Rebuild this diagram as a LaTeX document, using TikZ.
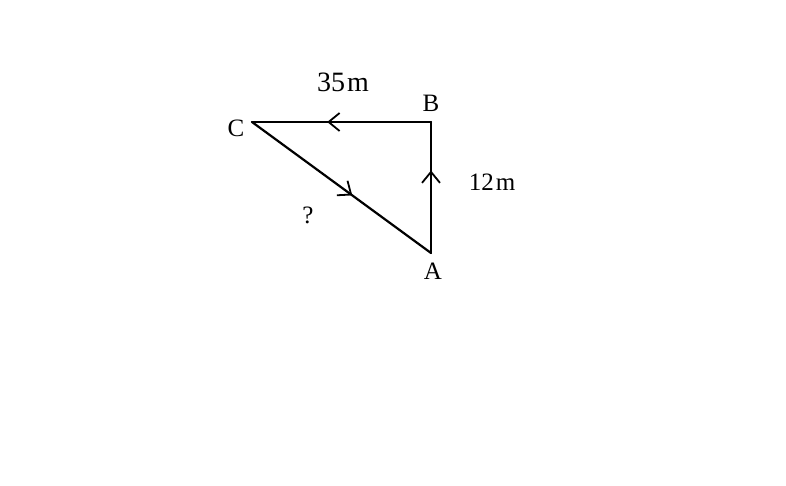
\documentclass[tikz,border=0pt]{standalone}
\usepackage{fontspec}
\setmainfont{Liberation Serif}
\usetikzlibrary{arrows.meta,decorations.markings}
\tikzset{
  seg/.style={line width=2.2pt, line cap=round, line join=round},
  midarrow/.style={postaction={decorate}, decoration={markings,
    mark=at position #1 with {\arrow{Straight Barb[length=11pt,width=18pt,line width=1.8pt]}}}},
  lbl/.style={font=\fontsize{25}{27}\selectfont, inner sep=0pt},
}
\begin{document}
\begin{tikzpicture}[x=1pt,y=-1pt]
\useasboundingbox (0,0) rectangle (786,485);
\coordinate (A) at (431,253);
\coordinate (B) at (431,122);
\coordinate (C) at (252,122);
\draw[seg, midarrow=0.58] (B) -- (C);
\draw[seg, midarrow=0.63] (A) -- (B);
\draw[seg, midarrow=0.56] (C) -- (A);
\node[lbl] (lB) at (431,103) {B};
\node[lbl] (lC) at (236,128) {C};
\node[lbl] (lA) at (433,271) {A};
\node[lbl, font=\fontsize{28}{30}\selectfont] (l35) at (343,82) {35\kern2pt m};
\node[lbl] (l12) at (492,182) {12\kern2pt m};
\node[lbl] (lq) at (308,215) {?};
\end{tikzpicture}
\end{document}
